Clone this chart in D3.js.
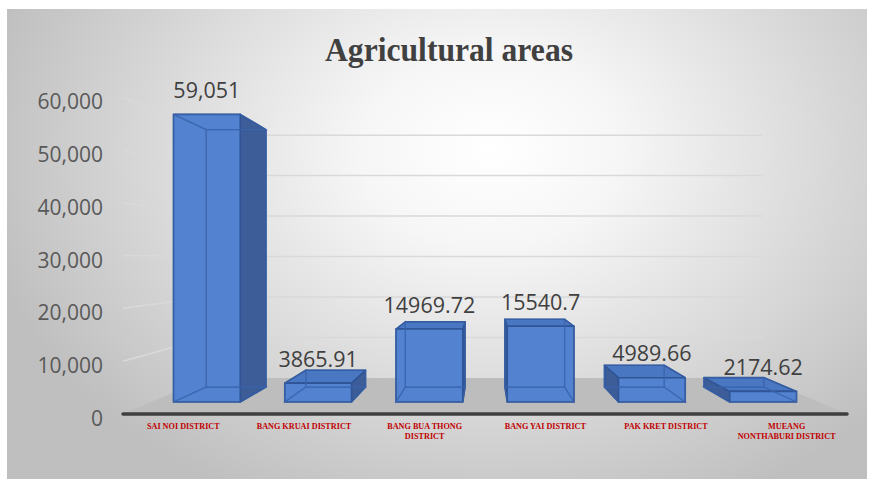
<!DOCTYPE html>
<html>
<head>
<meta charset="utf-8">
<script src="https://cdn.jsdelivr.net/npm/d3@7"></script>
<style>
html,body{margin:0;padding:0;background:#fff;}
svg{display:block;}
</style>
</head>
<body>
<svg id="chart" width="874" height="482"></svg>
<script>
// ---- data ----
const title = "Agricultural areas";
const categories = ["SAI NOI DISTRICT", "BANG KRUAI DISTRICT", "BANG BUA THONG DISTRICT", "BANG YAI DISTRICT", "PAK KRET DISTRICT", "MUEANG NONTHABURI DISTRICT"];
const categoryLines = [["SAI NOI DISTRICT"], ["BANG KRUAI DISTRICT"], ["BANG BUA THONG", "DISTRICT"], ["BANG YAI DISTRICT"], ["PAK KRET DISTRICT"], ["MUEANG", "NONTHABURI DISTRICT"]];
const values = [59051, 3865.91, 14969.72, 15540.7, 4989.66, 2174.62];
const valueLabels = ["59,051", "3865.91", "14969.72", "15540.7", "4989.66", "2174.62"];
const yTicks = [0, 10000, 20000, 30000, 40000, 50000, 60000];

// ---- layout ----
const svg = d3.select("#chart");
const defs = svg.append("defs");
const bg = defs.append("radialGradient").attr("id", "bg")
  .attr("gradientUnits", "userSpaceOnUse")
  .attr("cx", 490).attr("cy", 150).attr("r", 520)
  .attr("gradientTransform", "translate(490,150) scale(1,0.75) translate(-490,-150)");
bg.append("stop").attr("offset", 0).attr("stop-color", "#ffffff");
bg.append("stop").attr("offset", 0.25).attr("stop-color", "#f6f6f6");
bg.append("stop").attr("offset", 1).attr("stop-color", "#bfbfbf");

svg.append("rect").attr("x", 7).attr("y", 9).attr("width", 860).attr("height", 470).attr("fill", "url(#bg)");

// perspective
const vp = {x: 485, y: 260};
const k = 0.3055;               // depth factor (back plane scale 0.766)
const P = (X, Y, Z) => { const s = 1 / (1 + k * Z); return [vp.x + (X - vp.x) * s, vp.y + (Y - vp.y) * s]; };

const x = d3.scaleBand().domain(categories).range([123, 847]).paddingInner(0.4).paddingOuter(0.2);
const y = d3.scaleLinear().domain([0, 60000]).range([414, 97]);
const z = d3.scaleLinear().domain([0, 1]).range([0.277, 0.694]); // bar depth within floor
const [xL, xR] = x.range();

const line = d3.line();

// wall gridlines
const gridG = svg.append("g");
yTicks.filter(t => t > 0).forEach(t => {
  gridG.append("path").attr("d", line([P(xL, y(t), 1), P(xR, y(t), 1)]))
    .attr("stroke", "#d9d9d9").attr("stroke-width", 1.5).attr("fill", "none");
  gridG.append("path").attr("d", line([P(xL, y(t), 0), P(xL, y(t), 1)]))
    .attr("stroke", "#d9d9d9").attr("stroke-width", 1.5).attr("fill", "none");
});

// floor
svg.append("path")
  .attr("d", line([P(xL, y(0), 0), P(xR, y(0), 0), P(xR, y(0), 1), P(xL, y(0), 1)]) + "Z")
  .attr("fill", "#bdbdbd");
svg.append("path").attr("d", line([P(xL, y(0), 0), P(xR, y(0), 0)]))
  .attr("stroke", "#3f3f3f").attr("stroke-width", 3.5).attr("stroke-linecap", "round");

// bars
const barsG = svg.append("g");
const cFront = "#5383d0", cTop = "#4a77c2", cSide = "#3d5d98", cEdge = "#2f5597";
categories.forEach((c, i) => {
  const x0 = x(c), x1 = x(c) + x.bandwidth();
  const y0 = y(0), y1 = y(values[i]);
  const z0 = z(0), z1 = z(1);
  const faces = {
    front: [P(x0,y0,z0), P(x1,y0,z0), P(x1,y1,z0), P(x0,y1,z0)],
    back: [P(x0,y0,z1), P(x1,y0,z1), P(x1,y1,z1), P(x0,y1,z1)],
    left: [P(x0,y0,z0), P(x0,y0,z1), P(x0,y1,z1), P(x0,y1,z0)],
    right: [P(x1,y0,z0), P(x1,y0,z1), P(x1,y1,z1), P(x1,y1,z0)],
    top: [P(x0,y1,z0), P(x1,y1,z0), P(x1,y1,z1), P(x0,y1,z1)],
    bottom: [P(x0,y0,z0), P(x1,y0,z0), P(x1,y0,z1), P(x0,y0,z1)]
  };
  const vis = [], hid = ["back", "bottom"];
  if (x1 < vp.x) { vis.push("right"); hid.push("left"); } else if (x0 > vp.x) { vis.push("left"); hid.push("right"); } else { hid.push("left", "right"); }
  if (y1 > vp.y) vis.push("top"); else hid.push("top");
  vis.push("front");
  const g = barsG.append("g");
  vis.forEach(f => {
    g.append("path").attr("d", line(faces[f]) + "Z")
      .attr("fill", f === "front" ? cFront : f === "top" ? cTop : cSide)
      .attr("stroke", cEdge).attr("stroke-width", 1.6).attr("stroke-linejoin", "round");
  });
  hid.forEach(f => {
    g.append("path").attr("d", line(faces[f]) + "Z")
      .attr("fill", "none").attr("stroke", "#3a64ad").attr("stroke-opacity", 0.7).attr("stroke-width", 1.2);
  });
  // value label
  const top = P(x0 + x.bandwidth() / 2, y1, z0);
  svg.append("text").attr("x", top[0]).attr("y", top[1] - 25)
    .attr("text-anchor", "middle").attr("dominant-baseline", "central")
    .attr("font-family", "'Open Sans', sans-serif").attr("font-size", 21.5)
    .attr("fill", "#404040").text(valueLabels[i]);
});

// y-axis labels
yTicks.forEach(t => {
  svg.append("text").attr("x", 103).attr("y", y(t) + 4)
    .attr("text-anchor", "end").attr("dominant-baseline", "central")
    .attr("font-family", "'Open Sans', sans-serif").attr("font-size", 21)
    .attr("fill", "#595959").text(d3.format(",")(t));
});

// category labels
categories.forEach((c, i) => {
  const t = svg.append("text").attr("x", x(c) + x.bandwidth() / 2).attr("y", 426)
    .attr("text-anchor", "middle")
    .attr("font-family", "'Liberation Serif', 'Times New Roman', serif").attr("font-weight", "bold")
    .attr("font-size", 8.2).attr("fill", "#c00000");
  categoryLines[i].forEach((ln, j) => {
    t.append("tspan").attr("x", x(c) + x.bandwidth() / 2).attr("dy", j === 0 ? "0.35em" : 10).text(ln);
  });
});

// title
svg.append("text").attr("x", 449).attr("y", 50)
  .attr("text-anchor", "middle").attr("dominant-baseline", "central")
  .attr("font-family", "'Liberation Serif', 'Times New Roman', serif").attr("font-weight", "bold")
  .attr("font-size", 33).attr("fill", "#404040")
  .attr("textLength", 248).attr("lengthAdjust", "spacingAndGlyphs")
  .text(title);
</script>
</body>
</html>
